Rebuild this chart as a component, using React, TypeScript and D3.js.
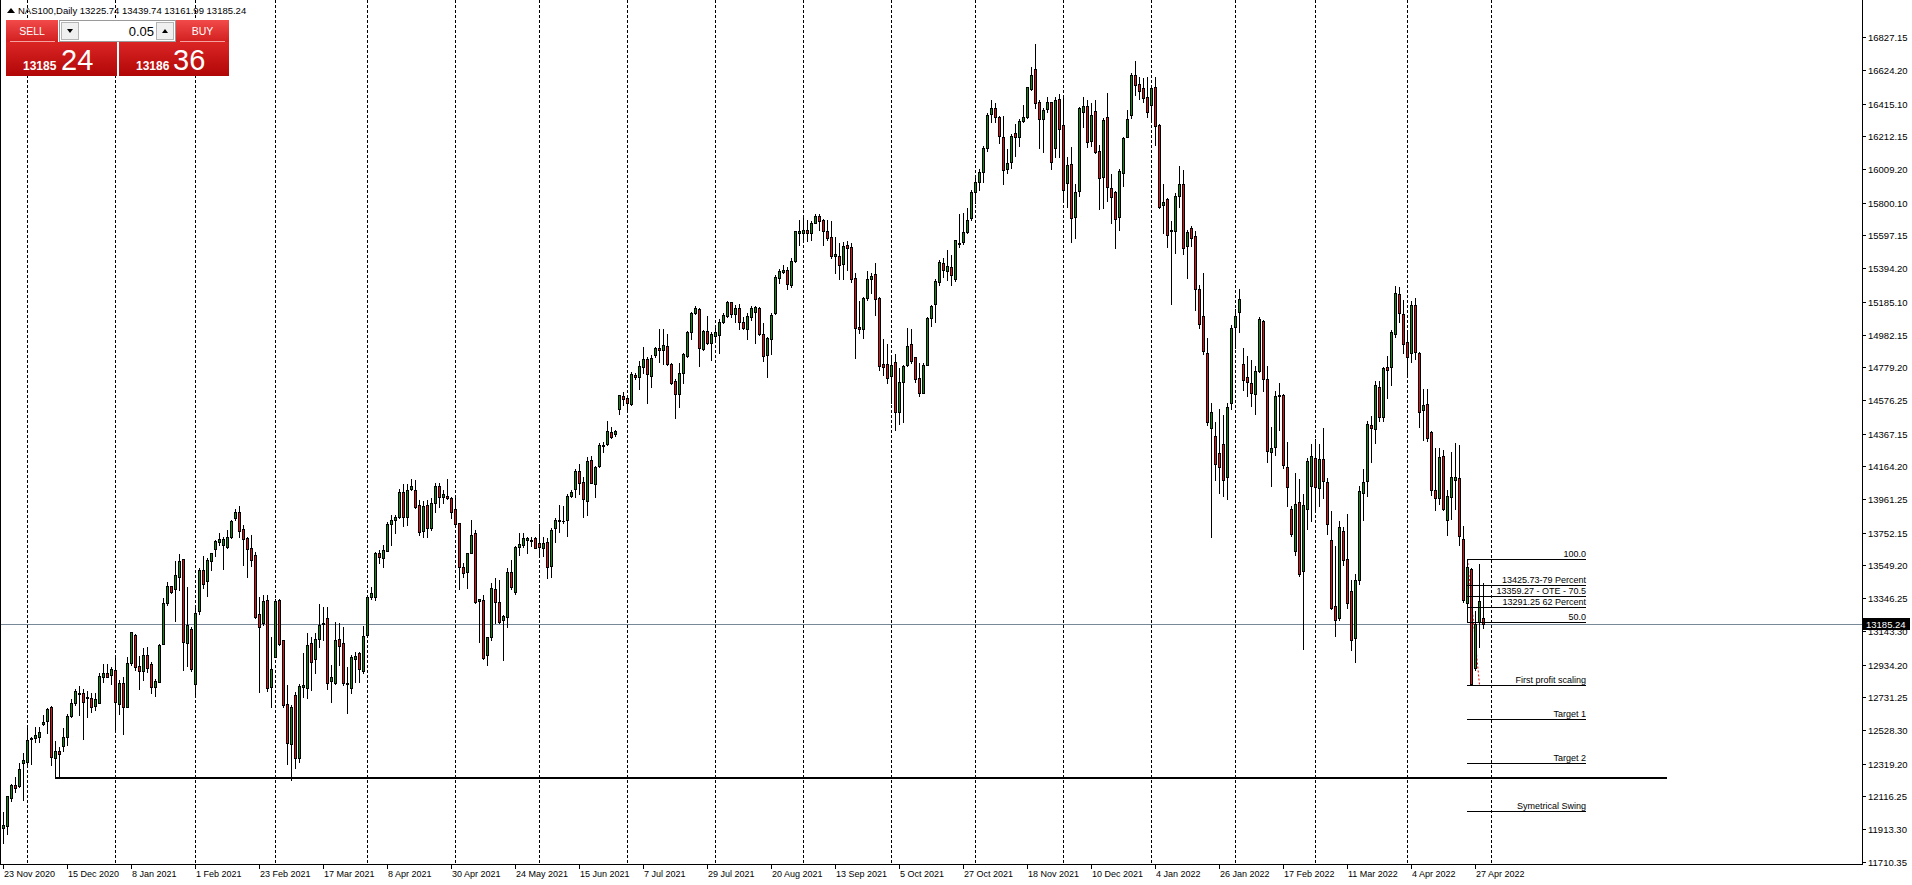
import React from "react";
import * as d3 from "d3";

// ---------- DATA ----------
const OPEN = [
11917,11934,12108,12186,12182,12325,12331,12470,12480,12486,
12567,12586,12670,12356,12397,12430,12486,12617,12697,12753,
12755,12728,12724,12679,12697,12859,12879,12869,12898,12687,
12819,12673,12944,13117,12925,12896,12993,12937,12797,12828,
13064,13318,13419,13401,13475,13589,13066,13155,12811,13268,
13521,13455,13575,13653,13697,13674,13662,13724,13846,13879,
13773,13717,13655,13612,13248,13194,13335,12797,12983,13335,
13086,12687,12441,12743,12356,12797,12791,13070,12971,13093,
13184,13221,12834,12822,13091,13070,12822,12791,12971,13004,
12896,13120,13355,13351,13624,13597,13641,13804,13831,13852,
14007,13848,14022,14017,13924,13765,13924,13780,13939,14042,
13976,13980,13966,13897,13811,13537,13511,13629,13748,13331,
13335,12993,13107,13403,13324,13211,13231,13506,13386,13662,
13676,13707,13703,13717,13686,13655,13693,13548,13784,13825,
13825,13831,13982,14022,14135,14065,13951,14204,14053,14167,
14289,14301,14375,14363,14518,14599,14586,14551,14731,14721,
14783,14831,14727,14853,14897,14886,14911,14800,14696,14611,
14746,14851,15000,15114,15141,14893,15004,14932,14975,14978,
15058,15097,15182,15108,15145,15058,15015,15089,15124,15145,
14986,14855,14953,15114,15335,15373,15383,15292,15441,15615,
15615,15629,15615,15677,15718,15693,15625,15586,15472,15470,
15420,15538,15524,15331,15031,15019,15207,15329,15356,15209,
14800,14798,14727,14810,14504,14690,14793,14922,14841,14710,
14622,14793,15083,15174,15306,15424,15379,15400,15327,15542,
15555,15621,15704,15865,15930,15990,16140,16350,16390,16330,
16206,16008,16055,16231,16206,16310,16335,16504,16629,16428,
16318,16380,16424,16138,16444,16281,15921,16041,15714,15875,
16366,16401,16186,16370,16122,15958,16331,15890,15865,15710,
15983,16206,16343,16591,16535,16511,16459,16405,16517,16281,
15786,15822,15625,15625,15844,15915,15532,15642,15596,15263,
15100,14870,14400,14350,14250,14300,14100,14560,15030,15120,
14800,14720,14681,14614,14757,15065,14709,14253,14282,14598,
14610,14158,13897,13640,13944,13517,13897,14040,14218,14028,
14210,14070,13707,13298,13220,13762,13588,13391,13097,13458,
14000,14075,14422,14396,14657,14472,14778,14780,14985,15232,
15108,14935,14866,15163,14866,14514,14550,14377,14020,13968,
14230,13833,13975,14082,14092,13712,13317,13529,12911,13196,
13225.74];

const HIGH = [
12021,12118,12192,12238,12325,12383,12538,12486,12548,12548,
12621,12664,12677,12459,12424,12538,12625,12720,12780,12801,
12780,12772,12755,12755,12879,12935,12937,12917,12987,12838,
12859,12983,13138,13124,12989,13035,13045,12952,12842,13062,
13345,13448,13422,13579,13620,13589,13417,13169,13293,13531,
13608,13593,13628,13707,13753,13728,13769,13831,13897,13918,
13800,13728,13738,13635,13355,13366,13366,13107,13339,13341,
13086,12807,12683,12766,12813,13008,13132,13107,13128,13310,
13293,13293,12931,13200,13190,13169,12921,12993,13010,13014,
13175,13366,13417,13635,13645,13676,13819,13862,13862,14022,
14055,14055,14086,14080,13955,13949,13955,13970,14059,14059,
14017,14086,13972,13966,13815,13566,13629,13831,13769,13339,
13366,13107,13438,13469,13459,13242,13535,13583,13670,13749,
13749,13728,13724,13728,13806,13724,13717,13780,13842,13924,
13918,13993,14018,14146,14179,14096,14224,14229,14167,14307,
14317,14446,14411,14390,14607,14628,14601,14752,14742,14820,
14907,14845,14856,14907,15015,15015,14984,14804,14704,14804,
14866,15004,15124,15160,15145,15011,15097,15000,15031,15077,
15118,15193,15186,15166,15172,15093,15114,15160,15160,15155,
15052,14969,15118,15352,15387,15414,15400,15455,15627,15693,
15718,15693,15687,15731,15729,15697,15693,15687,15590,15549,
15559,15565,15553,15362,15193,15213,15379,15362,15424,15217,
14955,14924,14855,14862,14773,14793,15021,15015,14845,14804,
14804,15093,15166,15325,15445,15455,15507,15476,15569,15729,
15735,15766,15880,15960,16010,16150,16360,16440,16420,16340,
16339,16134,16227,16287,16318,16407,16521,16641,16786,16438,
16387,16459,16428,16459,16475,16449,16086,16144,15917,16397,
16459,16438,16417,16438,16159,16324,16484,15979,15873,16008,
16211,16376,16608,16680,16583,16577,16583,16531,16579,16287,
15917,15828,15687,15859,16029,16004,15631,15656,15625,15290,
15362,14960,14560,14440,14520,14480,14560,15040,15140,15265,
14900,14850,14823,14788,15089,15073,14788,14408,14633,14681,
14614,14313,13921,14123,14087,13992,14218,14301,14336,14301,
14400,14092,13885,13671,13826,13790,13868,13458,13493,14040,
14146,14443,14474,14697,14697,14783,14847,15013,15282,15275,
15196,15006,15191,15208,14871,14645,14645,14384,14277,14277,
14265,14016,14253,14310,14296,13795,13592,13536,13268,13555,
13439.74];

const LOW = [
11824,11882,12089,12145,12176,12093,12304,12317,12455,12455,
12559,12511,12311,12232,12238,12399,12435,12606,12683,12621,
12472,12608,12642,12652,12697,12828,12859,12813,12524,12627,
12503,12673,12931,12900,12782,12838,12890,12759,12739,12828,
13062,13304,13376,13206,13397,12900,12925,12895,12745,13248,
13411,13359,13521,13608,13676,13529,13655,13717,13831,13728,
13552,13479,13546,13220,12766,13180,12772,12673,12983,13055,
12673,12317,12217,12290,12331,12731,12729,12776,12884,13045,
13086,12784,12704,12811,12931,12807,12631,12755,12828,12828,
12879,13111,13339,13335,13562,13537,13641,13676,13748,13842,
13794,13800,14017,13904,13738,13724,13724,13769,13883,13914,
13939,13960,13842,13800,13401,13480,13407,13629,13314,13076,
12971,12929,13086,13190,13190,12962,13165,13403,13372,13614,
13666,13624,13670,13655,13604,13608,13469,13475,13697,13759,
13815,13732,13976,13976,13993,13852,13860,14059,13976,14162,
14255,14297,14338,14355,14489,14545,14514,14545,14704,14644,
14746,14560,14659,14845,14814,14800,14793,14675,14462,14535,
14684,14845,14953,15110,14787,14886,14924,14824,14944,14870,
15052,15093,15089,15062,15015,15015,14955,15073,14932,14980,
14820,14721,14862,15110,15304,15366,15267,15280,15435,15538,
15573,15565,15569,15673,15631,15538,15569,15455,15366,15325,
15327,15383,15311,14835,14994,14959,15197,15238,15104,14762,
14731,14680,14555,14390,14427,14442,14787,14808,14690,14601,
14622,14793,15035,15062,15290,15337,15321,15290,15317,15524,
15544,15611,15693,15800,15880,15930,16120,16300,16300,16170,
15915,15987,16014,16091,16153,16304,16324,16500,16386,16138,
16117,16366,16008,16086,16086,15807,15776,15555,15580,15842,
16269,16144,16155,16107,15760,15766,15813,15673,15518,15631,
15904,16206,16324,16469,16442,16428,16335,16310,16159,15765,
15615,15528,15172,15491,15776,15482,15331,15532,15135,15020,
14860,14420,13726,14080,14000,13980,13960,14520,14900,15000,
14640,14600,14538,14486,14752,14633,14194,14044,14234,14391,
14153,13916,13731,13612,13481,13030,13778,13826,13902,13921,
13968,13743,13280,13113,13213,13553,13284,13025,12952,13434,
13830,13980,14194,14308,14443,14443,14586,14669,14970,15061,
14866,14723,14811,14828,14408,14325,14320,13987,13892,13933,
13892,13738,13838,13897,13678,13322,13199,12808,12900,13042,
13161.99];

const CLOSE = [
11938,12118,12186,12166,12284,12342,12466,12480,12495,12513,
12577,12656,12362,12397,12377,12484,12615,12695,12770,12760,
12704,12733,12673,12718,12863,12881,12859,12906,12704,12819,
12673,12944,13134,12921,12896,12993,12915,12793,12832,13055,
13314,13422,13382,13490,13579,13076,13179,12904,13252,13521,
13436,13583,13624,13699,13711,13711,13724,13827,13883,13765,
13711,13649,13583,13227,13169,13331,12786,12906,13329,13064,
12683,12445,12671,12356,12801,12805,13055,12948,13093,13180,
13190,12817,12855,13086,13051,12817,12811,12979,12987,12908,
13111,13355,13376,13624,13604,13645,13806,13831,13850,14003,
13852,14017,14042,13910,13755,13918,13780,13939,14042,13972,
13993,13966,13883,13804,13537,13504,13624,13738,13324,13339,
12977,13103,13407,13324,13200,13235,13506,13418,13662,13680,
13717,13720,13707,13660,13662,13686,13538,13769,13831,13833,
13827,13982,14007,14138,14059,13960,14198,14063,14162,14297,
14297,14384,14344,14384,14607,14580,14560,14737,14717,14787,
14831,14735,14835,14897,14884,14918,14800,14684,14611,14742,
14860,14998,15114,15145,14897,15004,14928,14986,15000,15058,
15104,15186,15110,15145,15062,15025,15097,15145,15151,14984,
14851,14959,15104,15337,15377,15383,15296,15439,15623,15623,
15629,15615,15673,15718,15689,15627,15580,15472,15480,15416,
15532,15522,15325,15021,15015,15207,15325,15346,15201,14789,
14783,14710,14793,14504,14686,14787,14911,14820,14706,14617,
14793,15087,15160,15315,15431,15383,15408,15354,15569,15553,
15617,15693,15869,15930,15990,16140,16345,16390,16335,16215,
16004,16049,16215,16206,16308,16331,16517,16593,16417,16318,
16376,16424,16055,16438,16256,15880,16035,15704,15865,16387,
16401,16180,16345,16117,15952,16314,15900,15838,15698,15998,
16204,16318,16591,16529,16496,16449,16364,16511,16277,15772,
15807,15600,15631,15842,15915,15518,15617,15580,15263,15050,
14880,14440,14500,14180,14160,14080,14530,15020,15100,15200,
14700,14690,14621,14759,15077,14709,14258,14277,14598,14605,
14170,14035,13747,13928,13493,13925,14199,14230,14035,14210,
14075,13809,13287,13208,13785,13581,13315,13089,13458,14011,
14068,14424,14403,14669,14472,14776,14761,15001,15239,15115,
14925,14842,15168,14871,14503,14545,14343,14016,13968,14222,
13902,13978,14099,14101,13731,13332,13540,12816,13184,13327,
13185.24];

const X_LABELS = ["23 Nov 2020","15 Dec 2020","8 Jan 2021","1 Feb 2021","23 Feb 2021","17 Mar 2021","8 Apr 2021","30 Apr 2021","24 May 2021","15 Jun 2021","7 Jul 2021","29 Jul 2021","20 Aug 2021","13 Sep 2021","5 Oct 2021","27 Oct 2021","18 Nov 2021","10 Dec 2021","4 Jan 2022","26 Jan 2022","17 Feb 2022","11 Mar 2022","4 Apr 2022","27 Apr 2022"];
const X_LABEL_STEP = 16;

const Y_TICKS = [16827.15,16624.20,16415.10,16212.15,16009.20,15800.10,15597.15,15394.20,15185.10,14982.15,14779.20,14576.25,14367.15,14164.20,13961.25,13752.15,13549.20,13346.25,13143.30,12934.20,12731.25,12528.30,12319.20,12116.25,11913.30,11710.35];

// month separators (bar index)
const SEPARATORS = [6,28,48,68,91,113,134,156,178,200,222,243,265,287,308,328,351,372];

const SYMBOL = "NAS100,Daily";
const BID = 13185.24;
const ASK = 13186.36;
const LOT = "0.05";

const FIB_HIGH = 13590;
const FIB_LOW = 12808;
const FIB_LEVELS = [1, 0.79, 0.705, 0.62, 0.5, 0, -0.272, -0.618, -1];
const FIB_LABELS = ["100.0","13425.73-79 Percent","13359.27 - OTE - 70.5","13291.25 62 Percent","50.0","First profit scaling","Target 1","Target 2","Symetrical Swing"];
const FIB_BAR_FROM = 366;
const FIB_BAR_TO = 395.7;
const FIB_TREND_TO = 369;

const SUPPORT_PRICE = 12232;
const SUPPORT_FROM = 13;
const SUPPORT_TO = 416;

// ---------- LAYOUT ----------
const W = 1912;
const H = 885;
const PLOT_R = 1862;
const PLOT_B = 864;
const FONT = "'Liberation Sans', Arial, sans-serif";

const BULL = "#0b8a0b";
const BEAR = "#e01010";

export default function App() {
  const x = d3.scaleLinear().domain([0, 1]).range([3, 7]);
  const y = d3.scaleLinear().domain([11710.35, 16827.15]).range([861.7, 37.3]);
  const px = (i: number) => Math.round(x(i));
  const py = (p: number) => Math.round(y(p));

  const candles = CLOSE.map((c, i) => {
    const o = OPEN[i];
    const hi = Math.max(HIGH[i], o, c);
    const lo = Math.min(LOW[i], o, c);
    const cx = px(i);
    const yH = py(hi), yL = py(lo);
    const yTop = py(Math.max(o, c)), yBot = py(Math.min(o, c));
    const bh = yBot - yTop + 1;
    const up = c >= o;
    return (
      <g key={i}>
        <rect x={cx} y={yH} width={1} height={yL - yH + 1} fill="#000" />
        <rect x={cx - 1} y={yTop} width={3} height={bh} fill="#000" />
        {bh >= 3 && (
          <rect x={cx} y={yTop + 1} width={1} height={bh - 2} fill={up ? BULL : BEAR} />
        )}
      </g>
    );
  });

  const last = CLOSE.length - 1;
  const ohlc = [OPEN[last], HIGH[last], LOW[last], CLOSE[last]].map((v) => v.toFixed(2)).join(" ");
  const bidStr = BID.toFixed(2);
  const askStr = ASK.toFixed(2);
  const bidBig = bidStr.replace(".", "").slice(0, 5);
  const bidPip = bidStr.replace(".", "").slice(5, 7);
  const askBig = askStr.replace(".", "").slice(0, 5);
  const askPip = askStr.replace(".", "").slice(5, 7);

  const fibRange = FIB_HIGH - FIB_LOW;
  const fx1 = px(FIB_BAR_FROM);
  const fx2 = Math.round(x(FIB_BAR_TO));

  return (
    <div>
      <style>{`html,body{margin:0;padding:0;overflow:hidden;background:#fff}`}</style>
      <svg width={W} height={H} style={{ display: "block" }} fontFamily={FONT}>
        <defs>
          <linearGradient id="btnG" x1="0" y1="0" x2="0" y2="1">
            <stop offset="0" stopColor="#f24a4a" />
            <stop offset="1" stopColor="#d11f1f" />
          </linearGradient>
          <linearGradient id="panG" x1="0" y1="0" x2="0" y2="1">
            <stop offset="0" stopColor="#db2525" />
            <stop offset="1" stopColor="#b10606" />
          </linearGradient>
        </defs>
        <rect x={0} y={0} width={W} height={H} fill="#fff" />

        {/* month separators */}
        <g shapeRendering="crispEdges">
          {SEPARATORS.map((b) => (
            <line key={b} x1={px(b) + 0.5} x2={px(b) + 0.5} y1={0} y2={PLOT_B} stroke="#000" strokeWidth={1} strokeDasharray="3,2" />
          ))}
        </g>

        {/* bid line */}
        <rect x={1} y={py(BID)} width={PLOT_R - 1} height={1} fill="#778899" />

        {/* fib trend line */}
        <line x1={fx1 + 0.5} y1={py(FIB_HIGH)} x2={px(FIB_TREND_TO) + 0.5} y2={py(FIB_LOW)} stroke="#ff0000" strokeWidth={1} strokeDasharray="2,2" />

        {/* candles */}
        <g shapeRendering="crispEdges">{candles}</g>

        {/* support line */}
        <rect x={px(SUPPORT_FROM)} y={py(SUPPORT_PRICE) - 1} width={px(SUPPORT_TO) - px(SUPPORT_FROM)} height={2} fill="#000" />

        {/* fib levels */}
        <g>
          {FIB_LEVELS.map((lv, k) => {
            const yy = py(FIB_LOW + lv * fibRange);
            return (
              <g key={k}>
                <rect x={fx1} y={yy} width={fx2 - fx1} height={1} fill="#000" />
                <text x={fx2} y={yy - 2} fontSize={9} textAnchor="end" fill="#000">{FIB_LABELS[k]}</text>
              </g>
            );
          })}
        </g>

        {/* frame & axes */}
        <g shapeRendering="crispEdges">
          <rect x={0} y={0} width={1} height={PLOT_B + 1} fill="#000" />
          <rect x={0} y={PLOT_B} width={PLOT_R + 1} height={1} fill="#000" />
          <rect x={PLOT_R} y={0} width={1} height={PLOT_B + 1} fill="#000" />
        </g>

        {/* y axis */}
        <g>
          {Y_TICKS.map((t) => (
            <g key={t}>
              <rect x={PLOT_R + 1} y={py(t)} width={3} height={1} fill="#000" />
              <text x={PLOT_R + 6} y={py(t) + 3.5} fontSize={9.5} fill="#000">{t.toFixed(2)}</text>
            </g>
          ))}
          <rect x={PLOT_R + 1} y={py(BID) - 6} width={47} height={12} fill="#000" />
          <text x={PLOT_R + 4} y={py(BID) + 3.5} fontSize={9.5} fill="#fff">{bidStr}</text>
        </g>

        {/* x axis */}
        <g>
          {X_LABELS.map((lab, k) => {
            const xx = px(k * X_LABEL_STEP);
            return (
              <g key={lab}>
                <rect x={xx} y={PLOT_B + 1} width={1} height={4} fill="#000" />
                <text x={xx + 1} y={877} fontSize={9} fill="#000">{lab}</text>
              </g>
            );
          })}
        </g>

        {/* title */}
        <path d="M7,13 L11,8 L15,13 Z" fill="#000" />
        <text x={18} y={14} fontSize={9.5} fill="#000">{`${SYMBOL}  ${ohlc}`}</text>

        {/* one click panel */}
        <g>
          <rect x={6} y={20} width={52} height={22} fill="url(#btnG)" />
          <rect x={176} y={20} width={53} height={22} fill="url(#btnG)" />
          <rect x={6} y={42} width={111} height={34} fill="url(#panG)" />
          <rect x={119} y={42} width={110} height={34} fill="url(#panG)" />
          <rect x={10} y={41} width={45} height={1} fill="#f7a0a0" />
          <rect x={180} y={41} width={45} height={1} fill="#f7a0a0" />
          <text x={32} y={35} fontSize={10.5} textAnchor="middle" fill="#fff">SELL</text>
          <text x={202.5} y={35} fontSize={10.5} textAnchor="middle" fill="#fff">BUY</text>

          <rect x={59.5} y={20.5} width={116} height={21} fill="#fff" stroke="#9a9a9a" />
          <rect x={61.5} y={22.5} width={17} height={17} fill="#f0f0f0" stroke="#b5b5b5" />
          <rect x={156.5} y={22.5} width={17} height={17} fill="#f0f0f0" stroke="#b5b5b5" />
          <path d="M67,29 L73,29 L70,33 Z" fill="#000" />
          <path d="M162,33 L168,33 L165,29 Z" fill="#000" />
          <text x={154} y={36} fontSize={13} textAnchor="end" fill="#000">{LOT}</text>

          <text x={23} y={70} fontSize={12} fontWeight="bold" fill="#fff">{bidBig}</text>
          <text x={61} y={70} fontSize={29} fill="#fff">{bidPip}</text>
          <text x={136} y={70} fontSize={12} fontWeight="bold" fill="#fff">{askBig}</text>
          <text x={173} y={70} fontSize={29} fill="#fff">{askPip}</text>
        </g>
      </svg>
    </div>
  );
}
